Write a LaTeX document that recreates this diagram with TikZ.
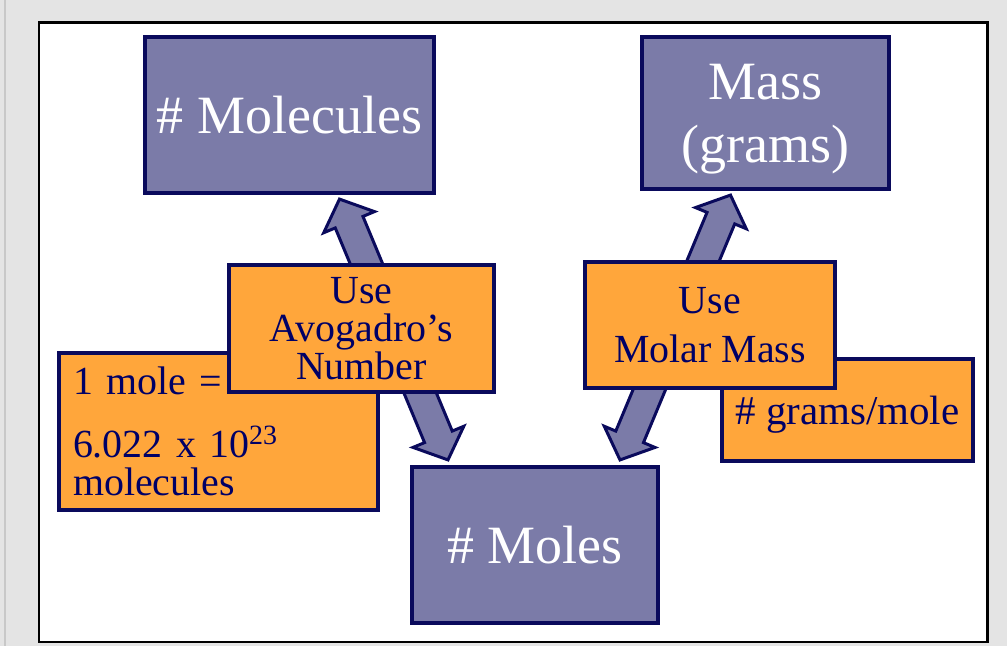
\documentclass[tikz,border=0pt]{standalone}
\usepackage{fontspec}
\setmainfont{Liberation Serif}
\usepackage{tikz}
\usetikzlibrary{calc}

\definecolor{slate}{HTML}{7B7BA8}
\definecolor{navyline}{HTML}{0A0A5C}
\definecolor{navytext}{HTML}{000066}
\definecolor{boxorange}{HTML}{FFA63B}
\definecolor{pagegray}{HTML}{E4E4E4}

% fat two-headed arrow between two named points
\newcommand{\fatarrow}[2]{%
  \coordinate (#1p) at ($(#1)!0.5cm!(#2)$);
  \coordinate (#1q) at ($(#2)!0.5cm!(#1)$);
  \draw[fatarr] (#1) -- ($(#1p)!0.55cm!90:(#2)$) -- ($(#1p)!0.3cm!90:(#2)$)
    -- ($(#1q)!0.3cm!-90:(#1)$) -- ($(#1q)!0.55cm!-90:(#1)$) -- (#2)
    -- ($(#1q)!0.55cm!90:(#1)$) -- ($(#1q)!0.3cm!90:(#1)$)
    -- ($(#1p)!0.3cm!-90:(#2)$) -- ($(#1p)!0.55cm!-90:(#2)$) -- cycle;}

\begin{document}
\begin{tikzpicture}[
    x=0.02cm, y=-0.02cm,
    qty/.style={draw=navyline, line width=2.4pt, fill=slate, text=white, align=center,
        inner sep=0pt, font=\fontsize{30.7}{36}\selectfont},
    conv/.style={draw=navyline, line width=2.4pt, fill=boxorange, text=navytext, align=center,
        inner sep=0pt, font=\fontsize{22.7}{21.8}\selectfont},
    fatarr/.style={draw=navyline, line width=1.7pt, fill=slate}
]
    \useasboundingbox (0,0) rectangle (1007,646);

    % page and frame
    \fill[pagegray] (0,0) rectangle (1007,646);
    \draw[line width=1pt, color={rgb,255:red,200;green,200;blue,200}] (5,0) -- (5,646);
    \draw[line width=1.5pt, fill=white] (39,22.5) rectangle (987.5,642);

    % quantities
    \node[qty, minimum width=5.78cm, minimum height=3.12cm] (molec) at (289.5,115) {\# Molecules};
    \node[qty, minimum width=4.94cm, minimum height=3.04cm, text depth=0pt] (mass) at (765.5,113) {Mass\\(grams)};
    \node[qty, minimum width=4.92cm, minimum height=3.12cm] (moles) at (535,545) {\# Moles};

    % conversion arrows
    \coordinate (l1) at ($(molec.south)+(50,4)$);
    \coordinate (l2) at ($(moles.north)+(-87,-5)$);
    \coordinate (r1) at ($(mass.south)+(-35,4)$);
    \coordinate (r2) at ($(moles.north)+(85,-5)$);
    \fatarrow{l1}{l2}
    \fatarrow{r1}{r2}

    % conversion factors
    \node[conv, minimum width=6.38cm, minimum height=3.14cm, text width=5.82cm, align=left] (onemole) at (218.5,431.5)
        {1 mole =\\[14pt]6.022 x 10\textsuperscript{23}\\molecules};
    \node[conv, minimum width=5.30cm, minimum height=2.54cm] (avog) at (361.5,328.5) {Use\\Avogadro’s\\Number};
    \node[conv, minimum width=5.02cm, minimum height=2.04cm, text depth=0pt, font=\fontsize{23.3}{24}\selectfont] (gpm) at (847.5,410) {\# grams/mole};
    \node[conv, minimum width=5.00cm, minimum height=2.52cm, font=\fontsize{22.7}{28}\selectfont] (molar) at (710,325) {Use\\Molar Mass};
\end{tikzpicture}
\end{document}
